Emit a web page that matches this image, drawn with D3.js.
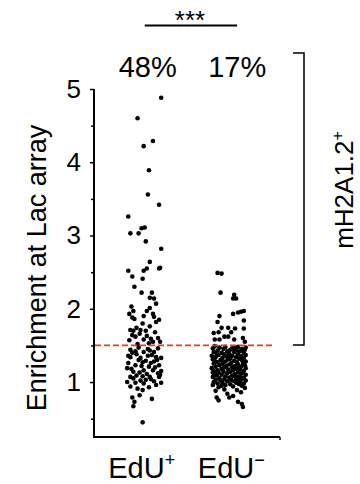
<!DOCTYPE html>
<html>
<head>
<meta charset="utf-8">
<script src="https://cdn.jsdelivr.net/npm/d3@7"></script>
<style>
  html, body { margin: 0; padding: 0; background: #fff; }
  svg { display: block; }
  text { font-family: "Liberation Sans", Arial, Helvetica, sans-serif; fill: #000; }
</style>
</head>
<body>
<svg id="chart" width="360" height="484"></svg>
<script>
// ---------------- data ----------------
const categories = ["EdU+", "EdU−"];
const percentLabels = ["48%", "17%"];
const threshold = 1.5;
const majorTicks = [1, 2, 3, 4, 5];
const minorTicks = [0.5, 1.5, 2.5, 3.5, 4.5];
const significance = "***";
const bracketLabel = "mH2A1.2";
const yLabel = "Enrichment at Lac array";

// EdU+ : values and horizontal jitter (-1..1)
const edUPlusValues = [
  4.88, 4.60, 4.29, 4.22, 3.89, 3.56, 3.42, 3.26, 3.10, 3.11, 3.03, 3.03, 2.92, 2.82,
  2.64, 2.52, 2.52, 2.55, 2.55, 2.56, 2.44, 2.41, 2.30, 2.22, 2.22, 2.15, 2.14, 2.07, 2.03, 2.01,
  1.97, 1.97, 1.93, 1.93, 1.90, 1.88, 1.86, 1.89, 1.85,
  1.71, 1.70, 1.71, 1.70, 1.64, 1.62, 1.60, 1.58, 1.55, 1.55,
  1.52, 1.53, 1.57, 1.59, 1.63, 1.66, 1.68, 1.74, 1.76, 1.80, 1.82,
  1.44, 1.40, 1.42, 1.41, 1.41, 1.34, 1.33, 1.36, 1.34, 1.33,
  1.26, 1.23, 1.27, 1.26, 1.23, 1.19, 1.14, 1.16, 1.16, 1.12,
  1.07, 1.08, 1.07, 1.07, 1.00, 0.99, 1.03, 1.01, 0.99,
  0.82, 0.89, 0.79, 0.73, 0.77, 0.67, 0.45,
  1.47, 1.46, 1.45, 1.38, 1.37, 1.36, 1.30, 1.29, 1.30, 1.28, 1.22, 1.21, 1.20, 1.18,
  1.13, 1.11, 1.10, 1.09, 1.05, 1.04, 1.02, 0.96, 0.94, 0.93, 0.91,
  1.43, 0.98, 1.15
];
const edUPlusJitter = [
  0.94, -0.41, 0.47, -0.06, 0.24, 0.18, 0.82, -0.94, -0.18, 0.00, -0.82, -0.35, 0.06, 0.94,
  0.29, -0.94, -0.06, 0.12, 0.82, 0.88, -0.71, -0.12, -0.59, -0.18, 0.41, 0.29, 0.53, 0.65, -0.76, 0.29,
  -0.65, 0.12, -0.88, 0.47, -0.06, -0.71, -0.59, 0.53, 0.82,
  -0.82, -0.65, -0.24, 0.06, -0.71, -0.53, 0.76, -0.06, 0.47, 0.88,
  -0.41, 0.24, -0.88, 0.35, 0.12, -0.29, 0.59, -0.47, 0.29, -0.12, 0.65,
  -0.82, -0.71, -0.53, -0.06, 0.53, -0.82, -0.24, 0.18, 0.65, 0.94,
  -0.94, -0.53, -0.12, 0.35, 0.82, -1.00, -0.65, -0.06, 0.47, 0.76,
  -0.82, -0.12, 0.29, 0.82, -1.00, -0.53, 0.06, 0.53, 0.94,
  -0.29, -0.12, -0.71, -0.59, 0.41, -0.65, -0.12,
  -0.35, 0.76, 0.18, -0.47, 0.41, -0.94, -0.35, 0.06, 0.71, 0.53, -0.18, 0.24, 0.59, -0.76,
  -0.29, 0.12, 0.88, -0.47, -0.65, 0.35, -0.24, 0.65, -0.82, 0.24, -0.41,
  0.29, -0.06, 0.94
];

// EdU- : values and horizontal jitter (-1..1)
const edUMinusValues = [
  2.49, 2.48, 2.22, 2.19, 2.14, 2.14, 1.95, 1.97, 1.96, 1.90, 1.93, 1.84, 1.82, 1.74, 1.74,
  1.67, 1.68, 1.68, 1.73, 1.73, 1.62, 1.62, 1.58, 1.58, 1.58, 1.60, 1.55,
  1.49, 1.48, 1.48, 1.47, 1.47, 1.46, 1.46, 1.45, 1.45, 1.44, 1.44,
  1.43, 1.43, 1.42, 1.42, 1.41, 1.41, 1.40, 1.40, 1.39, 1.39, 1.38,
  1.38, 1.37, 1.37, 1.36, 1.36, 1.35, 1.35, 1.34, 1.34, 1.33, 1.33,
  1.32, 1.32, 1.31, 1.31, 1.30, 1.30, 1.29, 1.29, 1.28, 1.28, 1.27,
  1.27, 1.26, 1.26, 1.25, 1.25, 1.24, 1.24, 1.23, 1.23, 1.22, 1.22,
  1.21, 1.21, 1.20, 1.20, 1.19, 1.19, 1.18, 1.18, 1.17, 1.17, 1.16,
  1.16, 1.15, 1.15, 1.14, 1.14, 1.13, 1.13, 1.12, 1.12, 1.11, 1.11,
  1.10, 1.10, 1.09, 1.09, 1.08, 1.08, 1.07, 1.07, 1.06, 1.06, 1.05,
  1.05, 1.04, 1.04, 1.03, 1.03, 1.02, 1.02, 1.01, 1.01, 1.00, 1.00,
  0.99, 0.99, 0.98, 0.98, 0.97, 0.97, 0.96, 0.96, 0.95, 0.94, 0.93,
  0.92, 0.90, 0.89, 0.88, 0.86, 0.84, 0.81, 0.79, 0.79, 0.75, 0.73, 0.70, 0.66,
  1.47, 1.35, 1.27, 1.19, 1.13, 1.08, 1.03, 0.95
];
const edUMinusJitter = [
  -0.67, -0.44, -0.50, 0.28, 0.39, 0.22, 0.50, 0.83, 0.67, -0.56, 0.22, 0.83, -0.67, -0.44, -0.06,
  -0.89, -0.61, 0.11, 0.33, 0.83, -0.28, -0.06, -0.83, -0.56, 0.28, 0.78, 0.89,
  -0.83, -0.22, 0.50, 0.94, -0.56, 0.17, -0.94, 0.72, -0.33, 0.06, 0.89,
  -0.67, 0.39, -0.11, 0.61, -0.89, 0.28, -0.44, 0.83, 0.00, -0.72, 0.50,
  -0.28, 0.94, -0.61, 0.17, -1.00, 0.67, -0.17, 0.39, -0.78, 0.83, -0.39,
  0.06, 0.56, -0.94, -0.06, 0.72, -0.50, 0.28, -0.83, 0.94, -0.22, 0.44,
  -0.67, 0.11, 0.78, -0.39, -0.89, 0.50, 0.00, -0.56, 0.89, -0.17, 0.33,
  -0.78, 0.67, -0.28, 0.17, -1.00, 0.94, -0.44, 0.39, -0.06, 0.61, -0.67,
  0.22, -0.89, 0.83, -0.33, 0.06, 0.50, -0.61, 0.72, -0.11, -0.83, 0.33,
  0.94, -0.44, 0.17, -0.72, 0.61, -0.22, 0.39, -0.94, 0.83, 0.00, -0.56,
  0.50, -0.28, 0.72, -0.78, 0.11, 0.94, -0.50, 0.28, -0.11, 0.61, -0.89,
  0.39, -0.39, 0.83, -0.67, 0.06, 0.56, -0.94, -0.22, 0.72, 0.22, -0.61,
  0.89, -0.28, 0.44, -0.78, 0.67, -0.11, 0.22, 0.00, -0.72, -0.61, 0.50, 0.72, 0.78,
  0.33, 0.06, -0.33, 0.50, -0.94, 0.28, 0.44, -0.44
];

// ---------------- layout ----------------
const svg = d3.select("#chart");
const font = '"Liberation Sans", Arial, Helvetica, sans-serif';

const y = d3.scaleLinear().domain([0.25, 5]).range([437, 89]);
const x = d3.scalePoint().domain(categories).range([94, 280]).padding(0.6);
const jitter = d3.scaleLinear().domain([-1, 1]).range([-17.5, 17.5]);

// Y axis (major)
const gY = svg.append("g").attr("transform", "translate(94,0)")
  .call(d3.axisLeft(y).tickValues(majorTicks).tickSize(4).tickPadding(9).tickFormat(d3.format("d")));
gY.select(".domain").remove();
gY.selectAll(".tick line").attr("stroke", "#000").attr("stroke-width", 1.5);
gY.selectAll(".tick text").attr("font-family", font).attr("font-size", 26).attr("fill", "#000");

// Y axis (minor)
const gYm = svg.append("g").attr("transform", "translate(94,0)")
  .call(d3.axisLeft(y).tickValues(minorTicks).tickSize(3).tickFormat(""));
gYm.select(".domain").remove();
gYm.selectAll(".tick line").attr("stroke", "#000").attr("stroke-width", 1.5);

// axis lines
svg.append("line").attr("x1", 94).attr("x2", 94).attr("y1", y(5)).attr("y2", y(0.25) + 1)
  .attr("stroke", "#000").attr("stroke-width", 2);
svg.append("line").attr("x1", 93).attr("x2", 280).attr("y1", y(0.25)).attr("y2", y(0.25))
  .attr("stroke", "#000").attr("stroke-width", 2);
svg.append("line").attr("x1", 280).attr("x2", 280).attr("y1", y(0.25)).attr("y2", y(0.25) + 3)
  .attr("stroke", "#000").attr("stroke-width", 1.5);

// points
const groups = [
  { cat: categories[0], values: edUPlusValues, jit: edUPlusJitter },
  { cat: categories[1], values: edUMinusValues, jit: edUMinusJitter }
];
groups.forEach(g => {
  svg.append("g").selectAll("circle")
    .data(g.values.map((v, i) => ({ v, j: g.jit[i] })))
    .join("circle")
    .attr("cx", d => x(g.cat) + jitter(d.j))
    .attr("cy", d => y(d.v))
    .attr("r", 2.3)
    .attr("fill", "#000");
});

// threshold line
svg.append("line").attr("x1", 95).attr("x2", 273).attr("y1", y(threshold)).attr("y2", y(threshold))
  .attr("stroke", "#e5392a").attr("stroke-width", 1.7).attr("stroke-dasharray", "6,3");

// x labels with superscripts
const supMarks = ["+", "−"];
categories.forEach((c, i) => {
  const t = svg.append("text").attr("x", x(c) + (i === 0 ? -3 : 2)).attr("y", 478)
    .attr("text-anchor", "middle").attr("font-size", 29);
  t.append("tspan").text("EdU");
  t.append("tspan").attr("font-size", 18).attr("dy", -12).text(supMarks[i]);
});

// percent labels
percentLabels.forEach((p, i) => {
  svg.append("text").attr("x", x(categories[i]) + (i === 0 ? 3 : 8)).attr("y", 77)
    .attr("text-anchor", "middle").attr("font-size", 29).text(p);
});

// significance
svg.append("line").attr("x1", x(categories[0])).attr("x2", 237).attr("y1", 25.5).attr("y2", 25.5)
  .attr("stroke", "#000").attr("stroke-width", 2);
svg.append("text").attr("x", 190).attr("y", 29).attr("text-anchor", "middle")
  .attr("font-size", 26).text(significance);

// bracket
svg.append("path")
  .attr("d", `M293,53 H304 V345 H293`)
  .attr("fill", "none").attr("stroke", "#000").attr("stroke-width", 1.5);
const bt = svg.append("text").attr("transform", "translate(353,190) rotate(-90)")
  .attr("text-anchor", "middle").attr("font-size", 26);
bt.append("tspan").text(bracketLabel);
bt.append("tspan").attr("font-size", 16).attr("dy", -10).text("+");

// y label
svg.append("text").attr("transform", "translate(46,268) rotate(-90)")
  .attr("text-anchor", "middle").attr("font-size", 27).text(yLabel);
</script>
</body>
</html>
